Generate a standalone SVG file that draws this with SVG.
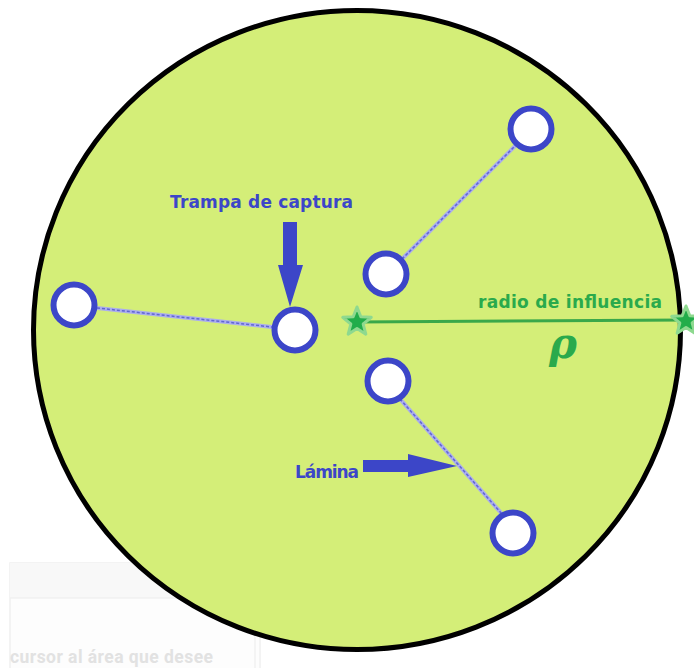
<svg xmlns="http://www.w3.org/2000/svg" width="694" height="668" viewBox="0 0 694 668">
<style>
.node{fill:#ffffff;stroke:#3c46c8;stroke-width:6}
.lam{stroke:#abaeee;stroke-width:4;stroke-linecap:round;fill:none}
.lam2{stroke:#6066d2;stroke-width:1.5;stroke-dasharray:3 2;fill:none}
.blue{fill:#3c46c8;font-family:"DejaVu Sans",sans-serif;font-weight:bold}
.green{fill:#2aaa4c;font-family:"DejaVu Sans",sans-serif;font-weight:bold}
.star{fill:#22ad4a;stroke:#8ed98f;stroke-width:3;stroke-linejoin:round}
</style>
<defs>
<path id="star" d="M0,-15 L3.82,-5.26 L14.27,-4.64 L6.18,2.01 L8.82,12.14 L0,6.5 L-8.82,12.14 L-6.18,2.01 L-14.27,-4.64 L-3.82,-5.26 Z"/>
</defs>
<rect width="694" height="668" fill="#ffffff"/>
<g id="bg-window">
<rect x="10" y="563" width="250" height="110" fill="#fdfdfd" stroke="#f0f0f0" stroke-width="1.5"/>
<rect x="10" y="563" width="250" height="35" fill="#f8f8f8"/>
<line x1="10" y1="598" x2="255" y2="598" stroke="#f0f0f0" stroke-width="1.5"/>
<line x1="255" y1="598" x2="255" y2="668" stroke="#f0f0f0" stroke-width="1.5"/>
<text x="10" y="663" font-family="Roboto,sans-serif" font-weight="bold" font-size="17.5" textLength="203" fill="#e2e2e2">cursor al área que desee</text>
</g>
<g id="region">
<ellipse cx="357" cy="330" rx="323.5" ry="319.5" fill="#d4ee78" stroke="#000000" stroke-width="5"/>
</g>
<g id="connectors">
<line class="lam" x1="97" y1="308" x2="272" y2="327"/>
<line class="lam2" x1="97" y1="308" x2="272" y2="327"/>
<line class="lam" x1="402" y1="259" x2="516" y2="145"/>
<line class="lam2" x1="402" y1="259" x2="516" y2="145"/>
<line class="lam" x1="400" y1="399" x2="502" y2="514"/>
<line class="lam2" x1="400" y1="399" x2="502" y2="514"/>
<line x1="357" y1="322" x2="686" y2="320" stroke="#3aa84a" stroke-width="3"/>
</g>
<g id="node-a"><circle class="node" cx="74" cy="305" r="20.5"/></g>
<g id="node-trap"><circle class="node" cx="295" cy="330" r="20.5"/></g>
<g id="node-c"><circle class="node" cx="386" cy="274" r="20.5"/></g>
<g id="node-c2"><circle class="node" cx="531" cy="129" r="20.5"/></g>
<g id="node-d"><circle class="node" cx="388" cy="381" r="20.5"/></g>
<g id="node-d2"><circle class="node" cx="513" cy="533" r="20.5"/></g>
<g id="star-left"><use href="#star" class="star" x="357" y="322"/></g>
<g id="star-right"><use href="#star" class="star" x="686" y="321"/></g>
<g id="label-trampa">
<text class="blue" x="170" y="208" font-size="17" textLength="183">Trampa de captura</text>
<path d="M283,222 H297 V265 H303 L290,307 L278,265 H283 Z" fill="#3c46c8"/>
</g>
<g id="label-lamina">
<text class="blue" x="295" y="478" font-size="17" textLength="64">Lámina</text>
<path d="M363,460 H408 V454 L457,466 L408,477 V472 H363 Z" fill="#3c46c8"/>
</g>
<g id="label-radio">
<text class="green" x="478" y="308" font-size="17" textLength="184">radio de influencia</text>
<text x="549" y="358" font-family="'DejaVu Serif',serif" font-style="italic" font-weight="bold" font-size="42" fill="#2aaa4c">ρ</text>
</g>
</svg>
